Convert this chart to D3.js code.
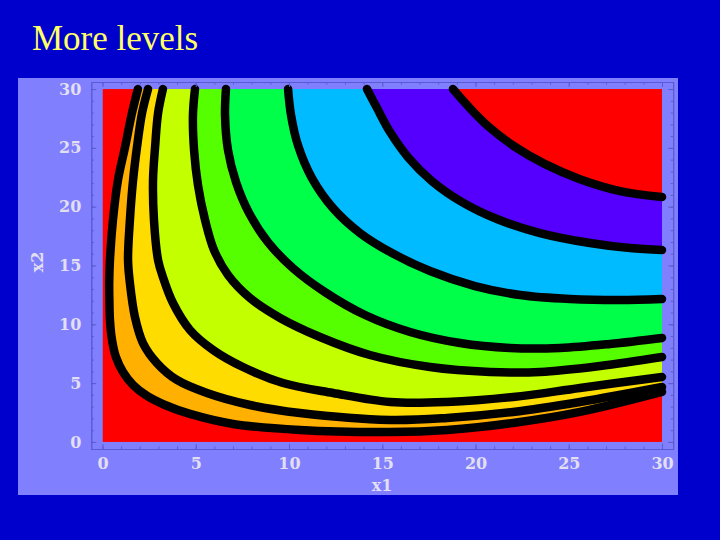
<!DOCTYPE html>
<html><head><meta charset="utf-8">
<script src="https://cdn.jsdelivr.net/npm/d3@7"></script>
<style>html,body{margin:0;padding:0;background:#0000cc;} svg{display:block}</style>
</head><body>
<script>
const title = "More levels";
const xLabel = "x1", yLabel = "x2";
const xTicks = [0, 5, 10, 15, 20, 25, 30];
const yTicks = [0, 5, 10, 15, 20, 25, 30];
const minorTicks = d3.range(0, 31);
const bandColors = ["#ff0000", "#ffb000", "#ffdc00", "#c4ff00", "#55ff00", "#00ff48", "#00bbff", "#5500ff", "#ff0000"];

// contour lines, as [x1, x2] points
const contour1 = [[1.90,30],[1.58,27.95],[1.21,25.06],[0.83,22.26],[0.56,18.86],[0.40,15.46],[0.36,13.5],[0.37,12.0],[0.40,10.37],[0.51,8.67],[0.72,7.22],[1.10,5.95],[1.64,4.84],[2.39,3.91],[3.35,3.14],[4.69,2.38],[7.00,1.53],[10.59,1.02],[15.42,0.85],[18.47,1.02],[22.01,1.61],[25.60,2.55],[30,4.25]];
const contour2 = [[2.44,30],[2.12,27.95],[1.85,25.06],[1.64,22.26],[1.47,18.86],[1.37,15.46],[1.47,13.51],[1.74,10.62],[2.17,8.41],[2.92,6.71],[3.99,5.27],[5.60,4.16],[7.91,3.14],[10.59,2.46],[15.42,1.87],[18.47,2.04],[22.01,2.55],[25.60,3.40],[30,4.67]];
const contour3 = [[3.24,30],[2.98,27.95],[2.82,25.06],[2.71,22.26],[2.76,18.86],[2.98,15.46],[3.24,14.02],[3.78,11.81],[4.69,9.52],[5.93,7.82],[7.53,6.37],[9.68,5.01],[12.36,4.16],[15.42,3.40],[18.47,3.40],[22.01,3.82],[25.60,4.59],[30,5.52]];
const contour4 = [[4.96,30],[4.85,27.78],[4.91,24.81],[5.12,21.84],[5.50,18.86],[5.98,16.31],[6.73,14.19],[7.91,12.23],[9.52,10.54],[11.66,8.92],[14.34,7.39],[17.56,6.37],[20.78,5.95],[23.46,5.95],[26.68,6.46],[30,7.22]];
const contour5 = [[6.62,30],[6.57,27.78],[6.73,24.81],[7.16,22.09],[7.86,19.46],[8.87,16.99],[10.21,14.78],[11.93,12.74],[14.08,10.79],[16.49,9.35],[19.17,8.41],[21.85,7.99],[24.53,7.99],[27.21,8.33],[30,8.84]];
const contour6 = [[9.95,30],[10.11,27.78],[10.48,25.23],[11.23,22.43],[12.36,19.88],[13.81,17.76],[15.52,16.06],[17.56,14.53],[19.97,13.25],[22.39,12.49],[25.07,12.15],[27.75,12.06],[30,12.15]];
const contour7 = [[14.18,30],[14.72,28.38],[15.42,26.34],[16.38,24.21],[17.67,22.17],[19.28,20.39],[21.15,18.95],[23.46,17.76],[26.14,16.91],[28.28,16.48],[30,16.31]];
const contour8 = [[18.79,30],[19.60,28.55],[20.67,26.85],[22.06,25.15],[23.73,23.62],[25.60,22.34],[27.75,21.33],[30,20.82]];
const contours = [contour1, contour2, contour3, contour4, contour5, contour6, contour7, contour8];

const W = 720, H = 540;
const svg = d3.select("body").append("svg").attr("width", W).attr("height", H);
svg.append("rect").attr("width", W).attr("height", H).attr("fill", "#0000cc");
svg.append("rect").attr("x", 18).attr("y", 78).attr("width", 660).attr("height", 417).attr("fill", "#8080ff");

svg.append("text").attr("x", 32).attr("y", 50).text(title)
  .attr("font-family", "'Liberation Serif','Times New Roman',serif").attr("font-size", 35)
  .attr("fill", "#ffff66");

const x = d3.scaleLinear().domain([-0.6, 30.6]).range([91.3, 673.2]);
const y = d3.scaleLinear().domain([-0.6, 30.6]).range([449, 82]);

const defs = svg.append("defs");
defs.append("clipPath").attr("id", "plotclip").append("rect")
  .attr("x", x(0)).attr("y", y(30)).attr("width", x(30) - x(0)).attr("height", y(0) - y(30));

const line = d3.line().x(d => x(d[0])).y(d => y(d[1])).curve(d3.curveCatmullRom.alpha(0.5));

const fills = svg.append("g").attr("clip-path", "url(#plotclip)");
fills.append("rect").attr("x", x(0)).attr("y", y(30)).attr("width", x(30) - x(0)).attr("height", y(0) - y(30)).attr("fill", bandColors[0]);
contours.forEach((c, k) => {
  fills.append("path").attr("d", line(c) + "L" + x(30) + "," + y(30) + "Z").attr("fill", bandColors[k + 1]);
});

svg.append("g").selectAll("path").data(contours).join("path")
  .attr("d", d => line(d)).attr("fill", "none").attr("stroke", "#000")
  .attr("stroke-width", 8.5).attr("stroke-linecap", "round").attr("stroke-linejoin", "round");

// frame with axes
const frameColor = "#5a5ad2";
const labelColor = "#e2dff0";
function styleAxis(g) {
  g.selectAll("path.domain").attr("stroke", frameColor).attr("stroke-width", 1);
  g.selectAll(".tick line").attr("stroke", frameColor).attr("stroke-width", 1);
  g.selectAll("text").attr("font-family", "'DejaVu Serif',serif").attr("font-weight", "bold")
    .attr("font-size", 16).attr("fill", labelColor);
}
const yb = y(-0.6), yt = y(30.6), xl = x(-0.6), xr = x(30.6);
// minor ticks
svg.append("g").attr("transform", `translate(0,${yb})`).call(d3.axisBottom(x).tickValues(minorTicks).tickSize(-2.5).tickSizeOuter(0).tickFormat("")).call(styleAxis);
svg.append("g").attr("transform", `translate(0,${yt})`).call(d3.axisTop(x).tickValues(minorTicks).tickSize(-2.5).tickSizeOuter(0).tickFormat("")).call(styleAxis);
svg.append("g").attr("transform", `translate(${xl},0)`).call(d3.axisLeft(y).tickValues(minorTicks).tickSize(-2.5).tickSizeOuter(0).tickFormat("")).call(styleAxis);
svg.append("g").attr("transform", `translate(${xr},0)`).call(d3.axisRight(y).tickValues(minorTicks).tickSize(-2.5).tickSizeOuter(0).tickFormat("")).call(styleAxis);
// major ticks
svg.append("g").attr("transform", `translate(0,${yb})`).call(d3.axisBottom(x).tickValues(xTicks).tickSize(-5).tickSizeOuter(0).tickPadding(9).tickFormat(d3.format("d"))).call(styleAxis);
svg.append("g").attr("transform", `translate(0,${yt})`).call(d3.axisTop(x).tickValues(xTicks).tickSize(-5).tickSizeOuter(0).tickFormat("")).call(styleAxis);
svg.append("g").attr("transform", `translate(${xl},0)`).call(d3.axisLeft(y).tickValues(yTicks).tickSize(-5).tickSizeOuter(0).tickPadding(10).tickFormat(d3.format("d"))).call(styleAxis);
svg.append("g").attr("transform", `translate(${xr},0)`).call(d3.axisRight(y).tickValues(yTicks).tickSize(-5).tickSizeOuter(0).tickFormat("")).call(styleAxis);

svg.append("text").attr("x", 382).attr("y", 491).attr("text-anchor", "middle").text(xLabel)
  .attr("font-family", "'DejaVu Serif',serif").attr("font-weight", "bold").attr("font-size", 16).attr("fill", labelColor);
svg.append("text").attr("transform", "translate(43,262) rotate(-90)").attr("text-anchor", "middle").text(yLabel)
  .attr("font-family", "'DejaVu Serif',serif").attr("font-weight", "bold").attr("font-size", 16).attr("fill", labelColor);
</script>
</body></html>
